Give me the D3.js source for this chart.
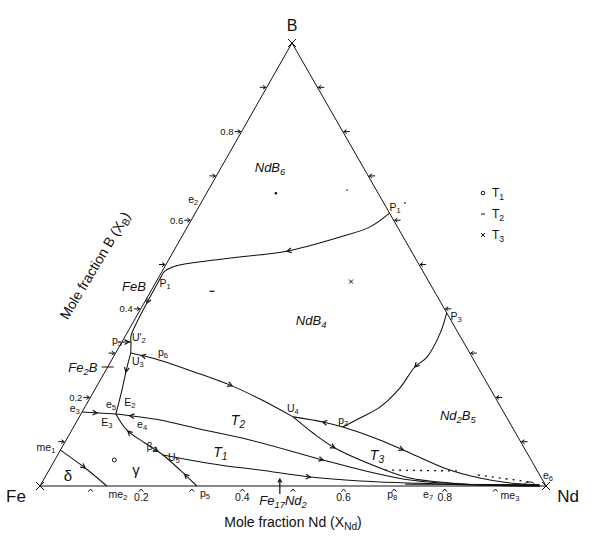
<!DOCTYPE html>
<html><head><meta charset="utf-8">
<script src="https://cdn.jsdelivr.net/npm/d3@7"></script>
<style>
body{margin:0;background:#fff}
svg{display:block}
text{font-family:"Liberation Sans",Arial,sans-serif;fill:#111}
</style>
</head><body><svg id="c" width="598" height="557"></svg>
<script>
// ---------- data (compositions: [x_Nd, x_B]) ----------
const vertexNames = ["Fe", "Nd", "B"];
const edgeTickValues = [0.1,0.2,0.3,0.4,0.5,0.6,0.7,0.8,0.9];
const tickLabelValues = [0.2,0.4,0.6,0.8];

const curveP1 = [[0.384,0.616],[0.361,0.585],[0.313,0.562],[0.224,0.530],[0.138,0.517],[0.046,0.503],[0.015,0.494],[0.005,0.485],[0.004,0.472]];
const curveP1U2 = [[0.004,0.472],[0.005,0.427],[0.007,0.375],[0.011,0.339],[0.018,0.325]];
const curveP5 = [[0,0.325],[0.018,0.325]];
const curveU2U3 = [[0.018,0.325],[0.030,0.300]];
const curveU3E = [[0.030,0.300],[0.039,0.266],[0.054,0.217],[0.069,0.1625]];
const curveP6 = [[0.030,0.300],[0.095,0.284],[0.178,0.257],[0.267,0.226],[0.342,0.194],[0.4225,0.156]];
const curveE3 = [[0,0.167],[0.069,0.1625]];
const curveE4 = [[0.069,0.1625],[0.163,0.149],[0.241,0.131],[0.363,0.104],[0.530,0.0587],[0.636,0.0316],[0.7245,0.0135],[0.828,0.0045],[0.985,0.001]];
const curveU4upper = [[0.4225,0.156],[0.487,0.1445],[0.532,0.133],[0.620,0.104],[0.694,0.0745],[0.785,0.0384],[0.860,0.018],[0.9255,0.0068],[0.987,0.0023]];
const curveU4lower = [[0.4225,0.156],[0.480,0.1196],[0.540,0.0858],[0.652,0.0406],[0.722,0.018],[0.807,0.0068],[0.9085,0.0011],[0.988,0]];
const curveU5 = [[0.208,0.070],[0.332,0.0474],[0.417,0.0361],[0.5235,0.0203],[0.627,0.0113],[0.728,0.0068],[0.849,0.0023],[0.988,0]];
const curveBeta2 = [[0.069,0.1625],[0.109,0.126],[0.159,0.097],[0.208,0.070],[0.259,0.036],[0.310,0]];
const curveMe = [[0,0.081],[0.069,0.0406],[0.132,0]];
const curveP3 = [[0.609,0.391],[0.619,0.345],[0.620,0.291],[0.607,0.2686],[0.601,0.221],[0.583,0.178],[0.556,0.1535],[0.532,0.133]];

const dottedA = [[0.664,0.036],[0.807,0.034]];
const dottedB = [[0.853,0.0248],[0.964,0.009]];

// arrows: [curve index, x_Nd, x_B, direction along curve]
const curveList = [curveP1, curveP1U2, curveP5, curveU2U3, curveU3E, curveP6, curveE3, curveE4, curveU4upper, curveU4lower, curveU5, curveBeta2, curveMe, curveP3];
const flowArrows = [
  [0,0.224,0.530,1],[1,0.003,0.415,1],[2,0.014,0.325,1],
  [5,0.054,0.296,-1],[5,0.267,0.226,1],[4,0.044,0.257,1],
  [6,0.031,0.165,1],[7,0.098,0.160,-1],[7,0.530,0.0587,1],
  [11,0.111,0.122,-1],[11,0.193,0.0767,1],[11,0.273,0.027,-1],
  [10,0.5235,0.0203,1],[9,0.540,0.0858,1],[8,0.487,0.1445,-1],[8,0.677,0.0813,1],
  [13,0.607,0.2686,1],[12,0.069,0.0406,1]
];

const compoundT1 = [0.1176,0.0588];
const compoundT2 = [0.121,0.4396];
const compoundT3 = [0.385,0.4615];
const strayDots = [[0.137,0.661],[0.274,0.668],[0.403,0.639]];
const fe2bMark = [0,0.2686];
const fe17nd2Mark = [0.474,0];

const phaseLabels = [["NdB_6",0.096,0.720],["NdB_4",0.349,0.375],["Nd_2B_5",0.746,0.160],["T_2",0.317,0.149],["T_1",0.318,0.0767],["T_3",0.631,0.070],["FeB",-0.039,0.4515],["Fe_2B",-0.049,0.2686],["Fe_{17}Nd_2",0.496,-0.0316]];
const greekLabels = [["δ",0.044,0.0226],["γ",0.172,0.036]];
const pointLabels = [["P_1",0.388,0.630],["P_1",0.019,0.458],["p_5",-0.012,0.3296],["U'_2",0.028,0.336],["U_3",0.053,0.282],["p_6",0.0925,0.3025],["e_5",0.048,0.185],["E_2",0.083,0.190],["E_3",0.060,0.1445],["e_4",0.132,0.140],["e_3",-0.019,0.176],["me_1",-0.032,0.088],["me_2",0.163,-0.018],["β_2",0.176,0.090],["U_5",0.232,0.0655],["U_4",0.412,0.176],["p_2",0.525,0.149],["P_3",0.631,0.384],["p_5",0.334,-0.0158],["p_8",0.705,-0.018],["e_7",0.776,-0.018],["me_3",0.939,-0.0203],["e_6",0.9915,0.0248],["e_2",-0.020,0.648]];
const legendItems = ["T_1","T_2","T_3"];

// ---------- drawing ----------
const svg = d3.select("#c");
const xS = d3.scaleLinear().domain([0,1]).range([40,546]);
const yS = d3.scaleLinear().domain([0,1]).range([486,43]);
const apexShift = 0.498;
const P = (n,b) => [xS(n + b*apexShift), yS(b)];

function richText(sel, str){
  const re = /_\{([^}]*)\}|_(.)|([^_]+)/g; let m;
  while((m = re.exec(str))){
    if(m[3]!==undefined){ sel.append("tspan").text(m[3]); }
    else { const s = m[1]!==undefined?m[1]:m[2];
      sel.append("tspan").attr("baseline-shift","-28%").attr("font-size","72%").text(s); }
  }
}

const line = d3.line().curve(d3.curveCatmullRom.alpha(0.5)).x(d=>P(d[0],d[1])[0]).y(d=>P(d[0],d[1])[1]);

// triangle
const corners = [P(0,0),P(1,0),P(0,1)];
svg.append("path").attr("d","M"+corners.map(c=>c.join(",")).join("L")+"Z")
  .attr("fill","none").attr("stroke","#111").attr("stroke-width",1);

// corner crosses
corners.forEach(c=>{
  svg.append("path").attr("d",`M${c[0]-4},${c[1]-4}L${c[0]+4},${c[1]+4}M${c[0]-4},${c[1]+4}L${c[0]+4},${c[1]-4}`)
    .attr("stroke","#111").attr("stroke-width",1);
});

function chevron(x,y,ang,len=5,spread=0.5){
  const a1 = ang+Math.PI-spread, a2 = ang+Math.PI+spread;
  return `M${x+len*Math.cos(a1)},${y+len*Math.sin(a1)}L${x},${y}L${x+len*Math.cos(a2)},${y+len*Math.sin(a2)}`;
}

const tickG = svg.append("g").attr("stroke","#111").attr("fill","none").attr("stroke-width",1);
edgeTickValues.forEach(v=>{
  let [x,y] = P(0,v);
  tickG.append("path").attr("d",`M${x-7},${y}L${x-1},${y}`+chevron(x-1,y,0,3.5,0.6));
  [x,y] = P(1-v,v);
  tickG.append("path").attr("d",`M${x+7},${y}L${x+1},${y}`+chevron(x+1,y,Math.PI,3.5,0.6));
  [x,y] = P(v,0);
  tickG.append("path").attr("d",chevron(x,y+3,-Math.PI/2,3.5,0.7));
});
tickLabelValues.forEach(v=>{
  let [x,y] = P(0,v);
  svg.append("text").attr("x",x-8).attr("y",y+3.5).attr("text-anchor","end").attr("font-size",9.5).text(v.toFixed(1));
  [x,y] = P(v,0);
  svg.append("text").attr("x",x).attr("y",y+15).attr("text-anchor","middle").attr("font-size",10.5).text(v.toFixed(1));
});

// vertex labels
const vl = [[vertexNames[0],-24,16,17],[vertexNames[1],22,16,17],[vertexNames[2],0,-12,16]];
[0,1,2].forEach(i=>{
  const c = corners[i];
  svg.append("text").attr("x",c[0]+vl[i][1]).attr("y",c[1]+vl[i][2]).attr("text-anchor","middle")
    .attr("font-size",vl[i][3]).text(vl[i][0]);
});

// curves
curveList.forEach(c=>{
  svg.append("path").attr("d",line(c)).attr("fill","none").attr("stroke","#111").attr("stroke-width",1.05);
});
const straight = d3.line().x(d=>P(d[0],d[1])[0]).y(d=>P(d[0],d[1])[1]);
[dottedA,dottedB].forEach(d=>{
  svg.append("path").attr("d",straight(d)).attr("fill","none").attr("stroke","#111").attr("stroke-width",1.3).attr("stroke-dasharray","2,5");
});
svg.append("path").attr("d",straight([[0.72,0.004],[0.985,0.003]])).attr("fill","none").attr("stroke","#111").attr("stroke-width",1);
{ const [x,y] = P(0.965,0.005);
  svg.append("ellipse").attr("cx",x).attr("cy",y).attr("rx",4.5).attr("ry",1.8).attr("fill","none").attr("stroke","#111").attr("stroke-width",1); }

// flow arrows
const tmp = svg.append("g");
flowArrows.forEach(a=>{
  const p = tmp.append("path").attr("d",line(curveList[a[0]])).attr("fill","none");
  const node = p.node(), L = node.getTotalLength();
  const [tx,ty] = P(a[1],a[2]);
  let best=0, bd=1e9;
  for(let l=0;l<=L;l+=0.5){ const q=node.getPointAtLength(l); const d=(q.x-tx)**2+(q.y-ty)**2; if(d<bd){bd=d;best=l;} }
  const q1 = node.getPointAtLength(Math.max(0,best-1)), q2 = node.getPointAtLength(Math.min(L,best+1));
  let ang = Math.atan2(q2.y-q1.y,q2.x-q1.x); if(a[3]<0) ang+=Math.PI;
  const q = node.getPointAtLength(best);
  svg.append("path").attr("d",chevron(q.x,q.y,ang,5,0.5)).attr("fill","none").attr("stroke","#111").attr("stroke-width",1.2);
  p.remove();
});

{ const [x,y] = P(fe2bMark[0],fe2bMark[1]);
  svg.append("path").attr("d",`M${x-6},${y}L${x+6},${y}`).attr("stroke","#111").attr("stroke-width",1); }
{ const [x,y] = P(fe17nd2Mark[0],fe17nd2Mark[1]);
  svg.append("path").attr("d",`M${x},${y+8}L${x},${y-7}`+chevron(x,y-7,-Math.PI/2,4,0.5)).attr("stroke","#111").attr("fill","none").attr("stroke-width",1.2); }

{ const [x,y]=P(...compoundT1); svg.append("circle").attr("cx",x).attr("cy",y).attr("r",2).attr("fill","none").attr("stroke","#111"); }
{ const [x,y]=P(...compoundT2); svg.append("path").attr("d",`M${x-2.5},${y}L${x+2.5},${y}`).attr("stroke","#111").attr("stroke-width",1.2); }
{ const [x,y]=P(...compoundT3); svg.append("path").attr("d",`M${x-2},${y-2}L${x+2},${y+2}M${x-2},${y+2}L${x+2},${y-2}`).attr("stroke","#111"); }
strayDots.forEach((d,i)=>{ const [x,y]=P(d[0],d[1]); svg.append("circle").attr("cx",x).attr("cy",y).attr("r",i===0?1.3:0.8).attr("fill","#111"); });

phaseLabels.forEach(l=>{
  const [x,y]=P(l[1],l[2]);
  const t = svg.append("text").attr("x",x).attr("y",y+5).attr("text-anchor","middle").attr("font-size",l[0].startsWith("T")?14:13).attr("font-style","italic");
  richText(t,l[0]);
});
greekLabels.forEach(l=>{
  const [x,y]=P(l[1],l[2]);
  svg.append("text").attr("x",x).attr("y",y+5).attr("text-anchor","middle").attr("font-size",15).text(l[0]);
});
pointLabels.forEach(l=>{
  const [x,y]=P(l[1],l[2]);
  const t = svg.append("text").attr("x",x).attr("y",y+4).attr("text-anchor","middle").attr("font-size",10.5);
  richText(t,l[0]);
});

{ const t = svg.append("text").attr("transform","translate(99,268) rotate(-59)").attr("text-anchor","middle").attr("font-size",14);
  richText(t,"Mole fraction B (X_B)"); }
{ const t = svg.append("text").attr("x",293).attr("y",527).attr("text-anchor","middle").attr("font-size",14);
  richText(t,"Mole fraction Nd (X_{Nd})"); }

legendItems.forEach((s,i)=>{
  const y = 193 + i*21;
  if(i===0) svg.append("circle").attr("cx",483).attr("cy",y).attr("r",1.8).attr("fill","none").attr("stroke","#111");
  if(i===1) svg.append("path").attr("d",`M481,${y}L485,${y}`).attr("stroke","#111");
  if(i===2) svg.append("path").attr("d",`M481,${y-2}L485,${y+2}M481,${y+2}L485,${y-2}`).attr("stroke","#111");
  const t = svg.append("text").attr("x",492).attr("y",y+4).attr("font-size",12);
  richText(t,s);
});
</script>
</body></html>
